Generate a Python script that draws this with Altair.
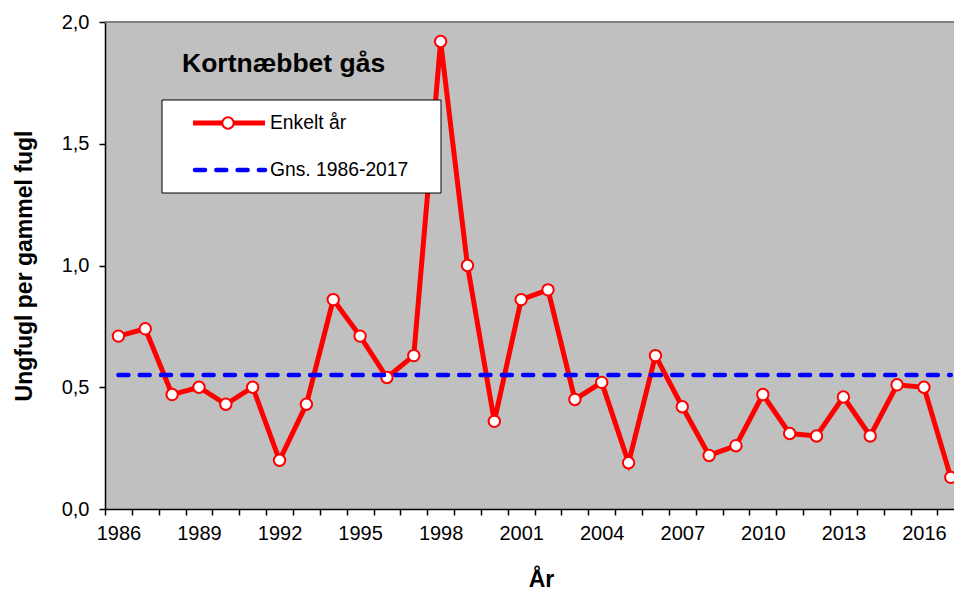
import altair as alt
import pandas as pd

years = list(range(1986, 2018))
values = [0.71, 0.74, 0.47, 0.50, 0.43, 0.50, 0.20, 0.43, 0.86, 0.71, 0.54, 0.63,
          1.92, 1.00, 0.36, 0.86, 0.90, 0.45, 0.52, 0.19, 0.63, 0.42, 0.22, 0.26,
          0.47, 0.31, 0.30, 0.46, 0.30, 0.51, 0.50, 0.13]
mean_value = 0.55
y_ticks = [0.0, 0.5, 1.0, 1.5, 2.0]
x_boundaries = [y - 0.5 for y in years]

title_text = "Kortnæbbet gås"
legend_labels = ["Enkelt år", "Gns. 1986-2017"]
x_title = "År"
y_title = "Ungfugl per gammel fugl"

FONT = "Liberation Sans"
BAND = 26.85
W, H = 849, 487
X_END = years[0] - 0.5 + W / BAND
RED = "#FF0000"
BLUE = "#0000FF"

df = pd.DataFrame({"year": years, "value": values})
df_mean = pd.DataFrame({"year": years, "value": [mean_value] * len(years)})
one = pd.DataFrame({"k": [0]})

xscale = alt.Scale(domain=[years[0] - 0.5, X_END], nice=False, zero=False)
yscale = alt.Scale(domain=[0, 2], nice=False, zero=True)

xaxis = alt.Axis(
    values=x_boundaries,
    labelExpr="((datum.value + 0.5 - 1986) % 3 == 0) ? toString(datum.value + 0.5) : ''",
    labelOffset=BAND / 2,
    labelFlush=False,
    labelOverlap=False,
    labelPadding=8,
    labelFontSize=20,
    grid=False,
    tickSize=6,
    title=x_title,
    titleFontSize=23,
    titleFontWeight="bold",
    titleX=436,
    titleY=70,
    titleBaseline="middle",
)
yaxis = alt.Axis(
    values=y_ticks,
    labelExpr="replace(format(datum.value, '.1f'), '.', ',')",
    labelPadding=10,
    labelFontSize=20,
    grid=False,
    tickSize=6,
    title=y_title,
    titleFontSize=23,
    titleFontWeight="bold",
    titleX=-81,
    titleY=H / 2,
    titleAngle=-90,
    titleAlign="center",
    titleBaseline="middle",
)

X = alt.X("year:Q", scale=xscale, axis=xaxis)
Y = alt.Y("value:Q", scale=yscale, axis=yaxis)

top_border = alt.Chart(one).mark_rule(color="#808080", strokeWidth=2).encode(
    x=alt.value(0), x2=alt.value(W), y=alt.value(0)
)
line = alt.Chart(df).mark_line(color=RED, strokeWidth=5, clip=True).encode(x=X, y=Y)
pts = alt.Chart(df).mark_point(
    shape="circle", filled=True, fill="white", stroke=RED, strokeWidth=2, size=130, opacity=1, clip=True
).encode(x=X, y=Y)
mean_line = alt.Chart(df_mean).mark_line(
    color=BLUE, strokeWidth=4.5, strokeDash=[10, 11.3], strokeCap="round", clip=True
).encode(x=X, y=Y)

title = alt.Chart(one).mark_text(
    text=title_text, font=FONT, fontSize=26.5, fontWeight="bold", align="left", baseline="middle", color="black"
).encode(x=alt.value(77), y=alt.value(42))

box = alt.Chart(one).mark_rect(fill="white", stroke="black", strokeWidth=1).encode(
    x=alt.value(57), x2=alt.value(336), y=alt.value(78), y2=alt.value(171)
)
leg_red = alt.Chart(one).mark_rule(color=RED, strokeWidth=5).encode(
    x=alt.value(88), x2=alt.value(160), y=alt.value(101)
)
leg_pt = alt.Chart(one).mark_point(
    shape="circle", filled=True, fill="white", stroke=RED, strokeWidth=2, size=130, opacity=1
).encode(x=alt.value(123), y=alt.value(101))
leg_blue = alt.Chart(one).mark_rule(color=BLUE, strokeWidth=4.5, strokeDash=[10, 11.3], strokeCap="round").encode(
    x=alt.value(90), x2=alt.value(160), y=alt.value(148)
)
leg_t1 = alt.Chart(one).mark_text(
    text=legend_labels[0], font=FONT, fontSize=19.3, align="left", baseline="middle", color="black"
).encode(x=alt.value(165), y=alt.value(101))
leg_t2 = alt.Chart(one).mark_text(
    text=legend_labels[1], font=FONT, fontSize=19.3, align="left", baseline="middle", color="black"
).encode(x=alt.value(165), y=alt.value(148))

chart = alt.layer(
    top_border, line, pts, mean_line, title, box, leg_red, leg_pt, leg_blue, leg_t1, leg_t2
).properties(
    width=W,
    height=H,
    autosize=alt.AutoSizeParams(type="none"),
    padding={"left": 97, "top": 14, "right": 0, "bottom": 85},
).configure_view(
    fill="#C0C0C0", stroke=None
).configure_axis(
    labelFont=FONT, titleFont=FONT, labelColor="black", titleColor="black",
    domainColor="black", domainWidth=1.5, tickColor="black", tickWidth=1.5,
)

chart.save("out.html", embed_options={"renderer": "svg", "actions": False})
